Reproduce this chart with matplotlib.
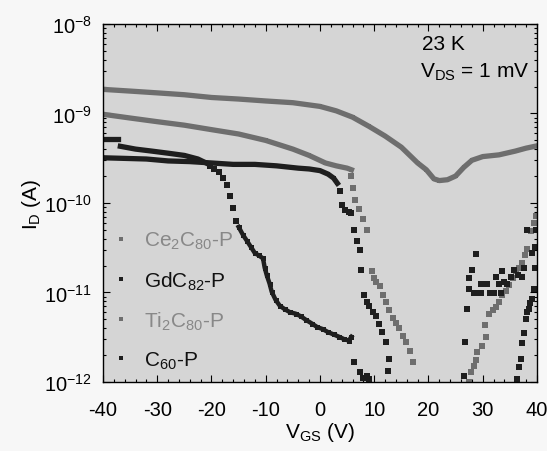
import numpy as np
import matplotlib
matplotlib.use('Agg')
import matplotlib.pyplot as plt
from matplotlib.lines import Line2D

plt.rcParams['font.family'] = ['Liberation Sans', 'DejaVu Sans']
plt.rcParams['mathtext.fontset'] = 'custom'
plt.rcParams['mathtext.rm'] = 'Liberation Sans'
plt.rcParams['mathtext.it'] = 'Liberation Sans:italic'
plt.rcParams['mathtext.default'] = 'regular'
plt.rcParams['axes.unicode_minus'] = False

# ---- data: V_GS (V) and I_D (A) ----
# Ce2C80-P (upper gray curve, dense sweep)
ce_v = [-40, -35, -30, -25, -20, -15, -10, -5, 0, 3, 6, 9, 12, 15, 18, 19.6, 21, 22,
        23.5, 25, 26.5, 28, 30, 33, 36, 38, 40]
ce_i = [1.86e-9, 1.78e-9, 1.70e-9, 1.62e-9, 1.51e-9, 1.45e-9, 1.38e-9, 1.32e-9, 1.20e-9,
        1.07e-9, 9.1e-10, 7.2e-10, 5.6e-10, 4.2e-10, 2.8e-10, 2.35e-10, 1.86e-10, 1.78e-10,
        1.82e-10, 2.0e-10, 2.5e-10, 3.0e-10, 3.3e-10, 3.45e-10, 3.8e-10, 4.1e-10, 4.35e-10]

# Ti2C80-P (lower gray curve)
ti_v_dense = [-40, -35, -30, -25, -20, -15, -10, -5, -2, 1, 3, 5, 5.8]
ti_i_dense = [9.8e-10, 8.9e-10, 8.1e-10, 7.4e-10, 6.6e-10, 5.9e-10, 5.0e-10, 4.0e-10,
              3.4e-10, 2.8e-10, 2.6e-10, 2.45e-10, 2.35e-10]
ti_v_drop = [5.8, 6.1, 6.5, 7.2, 8.0, 8.7, 9.5, 9.9, 10.4, 11.0, 11.6, 12.2, 12.8, 13.4,
             14.0, 14.6, 15.3, 15.9, 16.5, 17.1]
ti_i_drop = [2.0e-10, 1.48e-10, 1.07e-10, 8.5e-11, 6.6e-11, 5.0e-11, 1.74e-11, 1.45e-11,
             1.3e-11, 1.17e-11, 9.3e-12, 7.9e-12, 6.3e-12, 5.2e-12, 4.6e-12, 4.0e-12,
             3.3e-12, 2.8e-12, 2.2e-12, 1.66e-12]
ti_v_up = [27.5, 27.8, 28.3, 28.8, 29.0, 29.9, 30.4, 30.6, 31.2, 31.8, 32.5, 33.0, 33.6,
           34.2, 34.9, 35.5, 36.1, 36.7, 37.2, 37.7, 38.2, 38.9, 39.5, 39.8]
ti_i_up = [1.0e-12, 1.29e-12, 1.51e-12, 1.74e-12, 2.14e-12, 2.5e-12, 4.3e-12, 3.2e-12,
           5.8e-12, 6.3e-12, 6.9e-12, 7.9e-12, 9.3e-12, 1.05e-11, 1.2e-11, 1.45e-11,
           1.74e-11, 1.9e-11, 2.14e-11, 2.6e-11, 3.1e-11, 4.9e-11, 6.0e-11, 7.1e-11]

# GdC82-P (black curve switching off near +5 V)
gd_v_dense = [-40, -36, -32, -28, -24, -20, -16, -12, -8, -4, -2, 0, 1.5, 2.5, 3.2]
gd_i_dense = [3.2e-10, 3.15e-10, 3.1e-10, 2.95e-10, 2.9e-10, 2.8e-10, 2.7e-10, 2.7e-10,
              2.6e-10, 2.45e-10, 2.4e-10, 2.3e-10, 2.1e-10, 1.9e-10, 1.66e-10]
gd_v_drop = [3.6, 4.0, 4.6, 5.3, 5.8, 6.3, 6.8, 7.3, 7.6, 8.2, 8.7, 9.1, 9.7, 10.4, 10.9,
             11.5, 12.2, 12.8, 12.6]
gd_i_drop = [1.35e-10, 9.5e-11, 8.3e-11, 7.9e-11, 7.8e-11, 5.0e-11, 3.8e-11, 2.95e-11,
             1.78e-11, 9.3e-12, 7.9e-12, 7.1e-12, 6.0e-12, 5.4e-12, 4.4e-12, 3.6e-12,
             2.8e-12, 1.82e-12, 1.32e-12]
gd_v_up = [26.6, 26.8, 27.1, 27.5, 27.5, 28.1, 28.8, 28.4, 29.0, 29.7, 29.7, 30.3, 30.8,
           31.4, 32.1, 32.5, 33.0, 33.6, 33.4, 34.0, 34.5, 35.2, 35.8, 36.5, 37.2, 37.6,
           38.2, 39.1]
gd_i_up = [1.17e-12, 2.8e-12, 6.6e-12, 1.1e-11, 1.45e-11, 1.78e-11, 2.7e-11, 9.8e-12,
           9.8e-12, 9.8e-12, 1.26e-11, 1.26e-11, 1.26e-11, 9.8e-12, 9.8e-12, 1.5e-11,
           1.26e-11, 1.74e-11, 9.8e-12, 1.32e-11, 1.26e-11, 1.5e-11, 1.78e-11, 1.58e-11,
           1.5e-11, 1.86e-11, 5.0e-11, 2.75e-11]

# C60-P (black curve switching off near -20 V)
c60_v_start = [-40, -38.5, -37.2]
c60_i_start = [5.2e-10, 5.2e-10, 5.2e-10]
c60_v_dense = [-36.8, -34, -31, -28, -25, -22.5, -21]
c60_i_dense = [4.3e-10, 4.0e-10, 3.8e-10, 3.6e-10, 3.4e-10, 3.1e-10, 2.8e-10]
c60_v_drop = [-20.3, -19.5, -18.6, -17.9, -17.2, -16.6, -16.0, -15.4]
c60_i_drop = [2.6e-10, 2.4e-10, 2.2e-10, 1.9e-10, 1.58e-10, 1.2e-10, 8.9e-11, 6.3e-11]
c60_v_tail = [-15.0, -14.2, -13.5, -12.7, -12.0, -11.3, -10.5, -10.2, -9.8, -9.3, -8.9,
              -8.2, -7.4, -6.5, -5.5, -4.5, -3.5, -2.5, -1.5, -0.5, 0.5, 1.5, 2.5, 3.5,
              4.5, 5.3, 5.8]
c60_i_tail = [5.4e-11, 4.4e-11, 3.8e-11, 3.2e-11, 2.75e-11, 2.6e-11, 2.4e-11, 1.9e-11,
              1.55e-11, 1.26e-11, 1.02e-11, 8.3e-12, 7.1e-12, 6.5e-12, 6.0e-12, 5.8e-12,
              5.4e-12, 4.9e-12, 4.5e-12, 4.1e-12, 3.9e-12, 3.6e-12, 3.4e-12, 3.2e-12,
              3.0e-12, 2.9e-12, 3.2e-12]
c60_v_off = [6.3, 7.3, 8.0, 8.7, 9.1]
c60_i_off = [1.66e-12, 1.29e-12, 1.12e-12, 1.17e-12, 1.07e-12]
c60_v_up = [36.3, 36.7, 37.0, 37.2, 37.6, 37.9, 38.2, 38.5, 38.8, 39.1, 39.5, 39.6, 39.7,
            39.9]
c60_i_up = [1.07e-12, 1.48e-12, 1.82e-12, 2.7e-12, 3.5e-12, 5.1e-12, 6.0e-12, 6.6e-12,
            7.6e-12, 8.5e-12, 1.1e-11, 1.86e-11, 3.2e-11, 5.0e-11]

labels = ['Ce$_2$C$_{80}$-P', 'GdC$_{82}$-P', 'Ti$_2$C$_{80}$-P', 'C$_{60}$-P']
gray = '#6e6e6e'
black = '#1e1e1e'
colors = [gray, black, gray, black]
text_colors = ['#888888', '#111111', '#888888', '#111111']

# ---- figure ----
fig = plt.figure(figsize=(5.47, 4.52), dpi=100, facecolor='#f7f7f7')
ax = fig.add_axes([0.1883, 0.1527, 0.7934, 0.792])
ax.set_facecolor('#d5d5d5')

dense = dict(ls='-', lw=3.8, marker='s', ms=3.2, mew=0)
sparse = dict(ls='none', marker='s', ms=4.0, mew=0)

ax.plot(ce_v, ce_i, c=gray, **dense)
ax.plot(ti_v_dense, ti_i_dense, c=gray, **dense)
ax.plot(ti_v_drop, ti_i_drop, c=gray, **sparse)
ax.plot(ti_v_up, ti_i_up, c=gray, **sparse)
ax.plot(gd_v_dense, gd_i_dense, c=black, **dense)
ax.plot(gd_v_drop, gd_i_drop, c=black, **sparse)
ax.plot(gd_v_up, gd_i_up, c=black, **sparse)
ax.plot(c60_v_start, c60_i_start, c=black, **dense)
ax.plot(c60_v_dense, c60_i_dense, c=black, **dense)
ax.plot(c60_v_drop, c60_i_drop, c=black, **sparse)
ax.plot(c60_v_tail, c60_i_tail, c=black, ls='-', lw=3.2, marker='s', ms=3.6, mew=0)
ax.plot(c60_v_off, c60_i_off, c=black, **sparse)
ax.plot(c60_v_up, c60_i_up, c=black, **sparse)

ax.set_yscale('log')
ax.set_xlim(-40, 40)
ax.set_ylim(1e-12, 1e-8)
ax.set_xticks(np.arange(-40, 41, 10))
ax.set_xticks(np.arange(-40, 41, 2), minor=True)
ax.set_yticks([1e-12, 1e-11, 1e-10, 1e-9, 1e-8])
ax.set_yticklabels(['10$^{-12}$', '10$^{-11}$', '10$^{-10}$', '10$^{-9}$', '10$^{-8}$'])
ax.tick_params(which='both', direction='in', top=True, right=True, width=0.8)
ax.tick_params(which='major', length=5)
ax.tick_params(which='minor', length=2.5)
ax.tick_params(axis='x', which='major', labelsize=14.5, pad=13)
ax.tick_params(axis='y', which='major', labelsize=14.5, pad=8)
for s in ax.spines.values():
    s.set_linewidth(1.0)

ax.set_xlabel('V$_{GS}$ (V)', fontsize=15, labelpad=1)
ax.set_ylabel('I$_D$ (A)', fontsize=15, labelpad=1)

ax.text(0.735, 0.945, '23 K', transform=ax.transAxes, fontsize=15, va='center')
ax.text(0.731, 0.868, 'V$_{DS}$ = 1 mV', transform=ax.transAxes, fontsize=15, va='center')

handles = [Line2D([], [], ls='none', marker='s', ms=3.5, mew=0, c=c) for c in colors]
leg = ax.legend(handles, labels, loc='lower left', frameon=False, fontsize=15,
                handlelength=0.6, handletextpad=0.8, labelspacing=0.85,
                borderaxespad=0.15, bbox_to_anchor=(0.0, 0.0))
for t, c in zip(leg.get_texts(), text_colors):
    t.set_color(c)

fig.savefig('out.png', dpi=100, facecolor=fig.get_facecolor())
